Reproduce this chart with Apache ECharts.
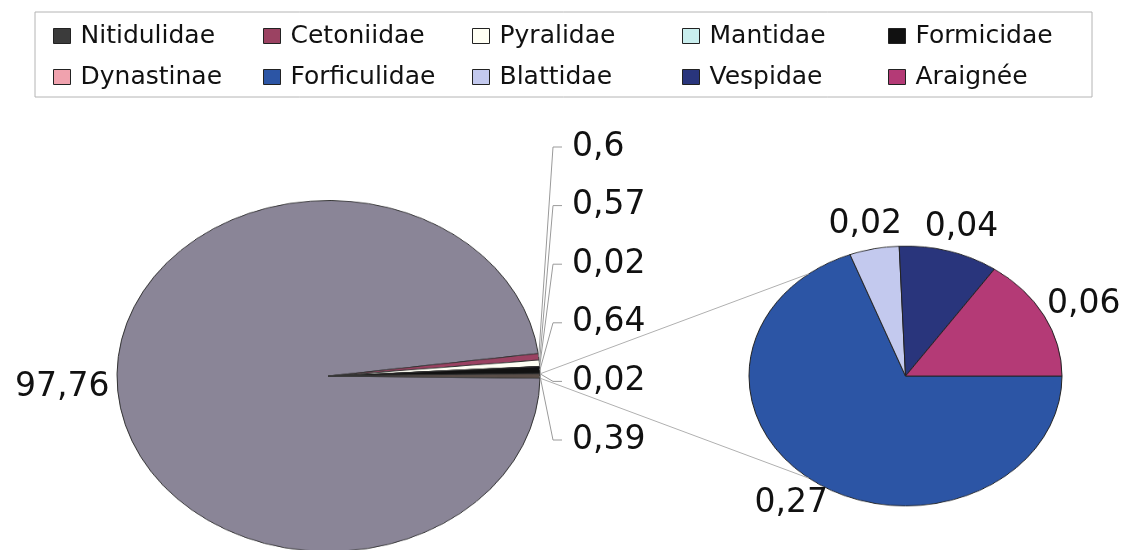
<!DOCTYPE html>
<html>
<head>
    <meta charset="utf-8">
    <title>Pie of pie</title>
    <script type="text/javascript" src="https://cdn.jsdelivr.net/npm/echarts@6/dist/echarts.min.js"></script>
    <style>
        html, body { margin: 0; padding: 0; overflow: hidden; background: #fff; }
        #pies { position: absolute; left: 0; top: 0; width: 1140px; height: 700px; }
        #labels { position: absolute; left: 0; top: 0; width: 1140px; height: 550px; }
    </style>
</head>
<body>
<div id="pies"></div>
<div id="labels"></div>
<script type="text/javascript">
    // main pie (clockwise, "Autres" is the slice split out to the small pie)
    var mainNames = ['Nitidulidae', 'Cetoniidae', 'Pyralidae', 'Mantidae', 'Formicidae', 'Dynastinae', 'Autres'];
    var mainValues = [97.76, 0.6, 0.57, 0.02, 0.64, 0.02, 0.39];
    // secondary pie
    var subNames = ['Forficulidae', 'Blattidae', 'Vespidae', 'Araignée'];
    var subValues = [0.27, 0.02, 0.04, 0.06];
    // legend, column by column
    var legendColumns = [
        ['Nitidulidae', 'Dynastinae'],
        ['Cetoniidae', 'Forficulidae'],
        ['Pyralidae', 'Blattidae'],
        ['Mantidae', 'Vespidae'],
        ['Formicidae', 'Araignée']
    ];

    var colors = {
        'Nitidulidae': '#8a8597',
        'Cetoniidae': '#9b4262',
        'Pyralidae': '#fffff4',
        'Mantidae': '#c9eeee',
        'Formicidae': '#111111',
        'Dynastinae': '#f0a2ae',
        'Autres': '#5a4e48',
        'Forficulidae': '#2c55a5',
        'Blattidae': '#c3c9ee',
        'Vespidae': '#29357c',
        'Araignée': '#b43a76'
    };
    var iconColors = Object.assign({}, colors, {'Nitidulidae': '#3b3b3b'});

    var PIE1 = {cx: 328.5, cy: 376, r: 211.5};
    var PIE2 = {cx: 905.5, cy: 376, r: 156.5};
    var SQUASH = 0.83;          // Excel draws the pies as flattened ellipses
    var legendLeft = [53, 263, 472, 682, 888];
    var STACK_TOP = 147, STACK_STEP = 58.6;
    var FONT = 'DejaVu Sans';

    function sum(arr) {
        return arr.reduce(function (a, b) { return a + b; }, 0);
    }
    // start so that the split slice is centred on 3 o'clock
    var mainStart = 360 - mainValues[mainValues.length - 1] / sum(mainValues) * 180;
    var subStart = 0;

    function midAngles(values, start) {
        var total = sum(values), acc = 0;
        return values.map(function (v) {
            var m = start - (acc + v / 2) / total * 360;
            acc += v;
            return m * Math.PI / 180;
        });
    }
    var mainMid = midAngles(mainValues, mainStart);
    var subMid = midAngles(subValues, subStart);

    function edgePoint(pie, a) {
        return [pie.cx + pie.r * Math.cos(a), pie.cy - pie.r * SQUASH * Math.sin(a)];
    }
    function outsideLabel(pie, a, rect) {
        var c = Math.cos(a), s = Math.sin(a), pad = 8;
        return {
            x: pie.cx + (pie.r + pad) * c + rect.width / 2 * c,
            y: pie.cy - (pie.r * SQUASH + pad) * s - rect.height / 2 * s,
            align: 'center',
            verticalAlign: 'middle'
        };
    }
    function fmt(p) {
        return String(p.value).replace('.', ',');
    }
    function toData(names, values, transparent) {
        return names.map(function (n, i) {
            var item = {name: n, value: values[i]};
            item.itemStyle = transparent ? {color: 'rgba(0,0,0,0)', borderWidth: 0} : {color: colors[n]};
            return item;
        });
    }

    // ---- pies, drawn round then flattened ----
    var pieDiv = document.getElementById('pies');
    pieDiv.style.transform = 'scaleY(' + SQUASH + ')';
    pieDiv.style.transformOrigin = '0 ' + PIE1.cy + 'px';
    var pieChart = echarts.init(pieDiv);
    pieChart.setOption({
        animation: false,
        series: [{
            type: 'pie',
            silent: true,
            center: [PIE1.cx, PIE1.cy],
            radius: PIE1.r,
            startAngle: mainStart,
            label: {show: false},
            labelLine: {show: false},
            itemStyle: {borderColor: '#333', borderWidth: 1},
            data: toData(mainNames, mainValues, false)
        }, {
            type: 'pie',
            silent: true,
            center: [PIE2.cx, PIE2.cy],
            radius: PIE2.r,
            startAngle: subStart,
            label: {show: false},
            labelLine: {show: false},
            itemStyle: {borderColor: '#222', borderWidth: 1},
            data: toData(subNames, subValues, false)
        }]
    });

    // ---- legend, labels and connector lines ----
    var a1 = mainValues[mainValues.length - 1] / sum(mainValues) * Math.PI;
    var a2 = 128 * Math.PI / 180;
    var up1 = edgePoint(PIE1, a1), dn1 = edgePoint(PIE1, -a1);
    var up2 = edgePoint(PIE2, a2), dn2 = edgePoint(PIE2, -a2);

    var mainLabelData = toData(mainNames, mainValues, true);
    mainLabelData[0].labelLine = {show: false};

    var labelChart = echarts.init(document.getElementById('labels'));
    labelChart.setOption({
        animation: false,
        legend: legendColumns.map(function (col, k) {
            return {
                orient: 'vertical',
                left: legendLeft[k],
                top: 23,
                padding: 0,
                itemGap: 15,
                itemWidth: 17,
                itemHeight: 15,
                icon: 'rect',
                selectedMode: false,
                textStyle: {fontFamily: FONT, fontSize: 25, color: '#111', lineHeight: 26, padding: [0, 0, 0, 5]},
                data: col.map(function (n) {
                    return {name: n, itemStyle: {color: iconColors[n], borderColor: '#222', borderWidth: 1, opacity: 1}};
                })
            };
        }),
        graphic: [{
            type: 'rect',
            shape: {x: 35, y: 12, width: 1057, height: 85},
            style: {fill: 'none', stroke: '#b4b4b4', lineWidth: 1}
        }, {
            type: 'line',
            shape: {x1: up1[0], y1: up1[1], x2: up2[0], y2: up2[1]},
            style: {stroke: '#b0b0b0', lineWidth: 1}
        }, {
            type: 'line',
            shape: {x1: dn1[0], y1: dn1[1], x2: dn2[0], y2: dn2[1]},
            style: {stroke: '#b0b0b0', lineWidth: 1}
        }],
        series: [{
            type: 'pie',
            silent: true,
            center: [PIE1.cx, PIE1.cy],
            radius: PIE1.r,
            startAngle: mainStart,
            avoidLabelOverlap: false,
            label: {show: true, formatter: fmt, fontFamily: FONT, fontSize: 33, color: '#111'},
            labelLine: {show: true, length: 10, length2: 10, lineStyle: {color: '#9a9a9a', width: 1}},
            labelLayout: function (params) {
                var i = params.dataIndex, a = mainMid[i];
                if (i === 0) {
                    return outsideLabel(PIE1, a, params.labelRect);
                }
                var edge = edgePoint(PIE1, a);
                var x0 = PIE1.cx + PIE1.r;
                var y = STACK_TOP + (i - 1) * STACK_STEP;
                return {
                    x: x0 + 32,
                    y: y,
                    align: 'left',
                    verticalAlign: 'middle',
                    labelLinePoints: [edge, [x0 + 13, y], [x0 + 22, y]]
                };
            },
            data: mainLabelData
        }, {
            type: 'pie',
            silent: true,
            center: [PIE2.cx, PIE2.cy],
            radius: PIE2.r,
            startAngle: subStart,
            avoidLabelOverlap: false,
            label: {show: true, formatter: fmt, fontFamily: FONT, fontSize: 33, color: '#111'},
            labelLine: {show: false},
            labelLayout: function (params) {
                return outsideLabel(PIE2, subMid[params.dataIndex], params.labelRect);
            },
            data: toData(subNames, subValues, true)
        }]
    });
</script>
</body>
</html>
